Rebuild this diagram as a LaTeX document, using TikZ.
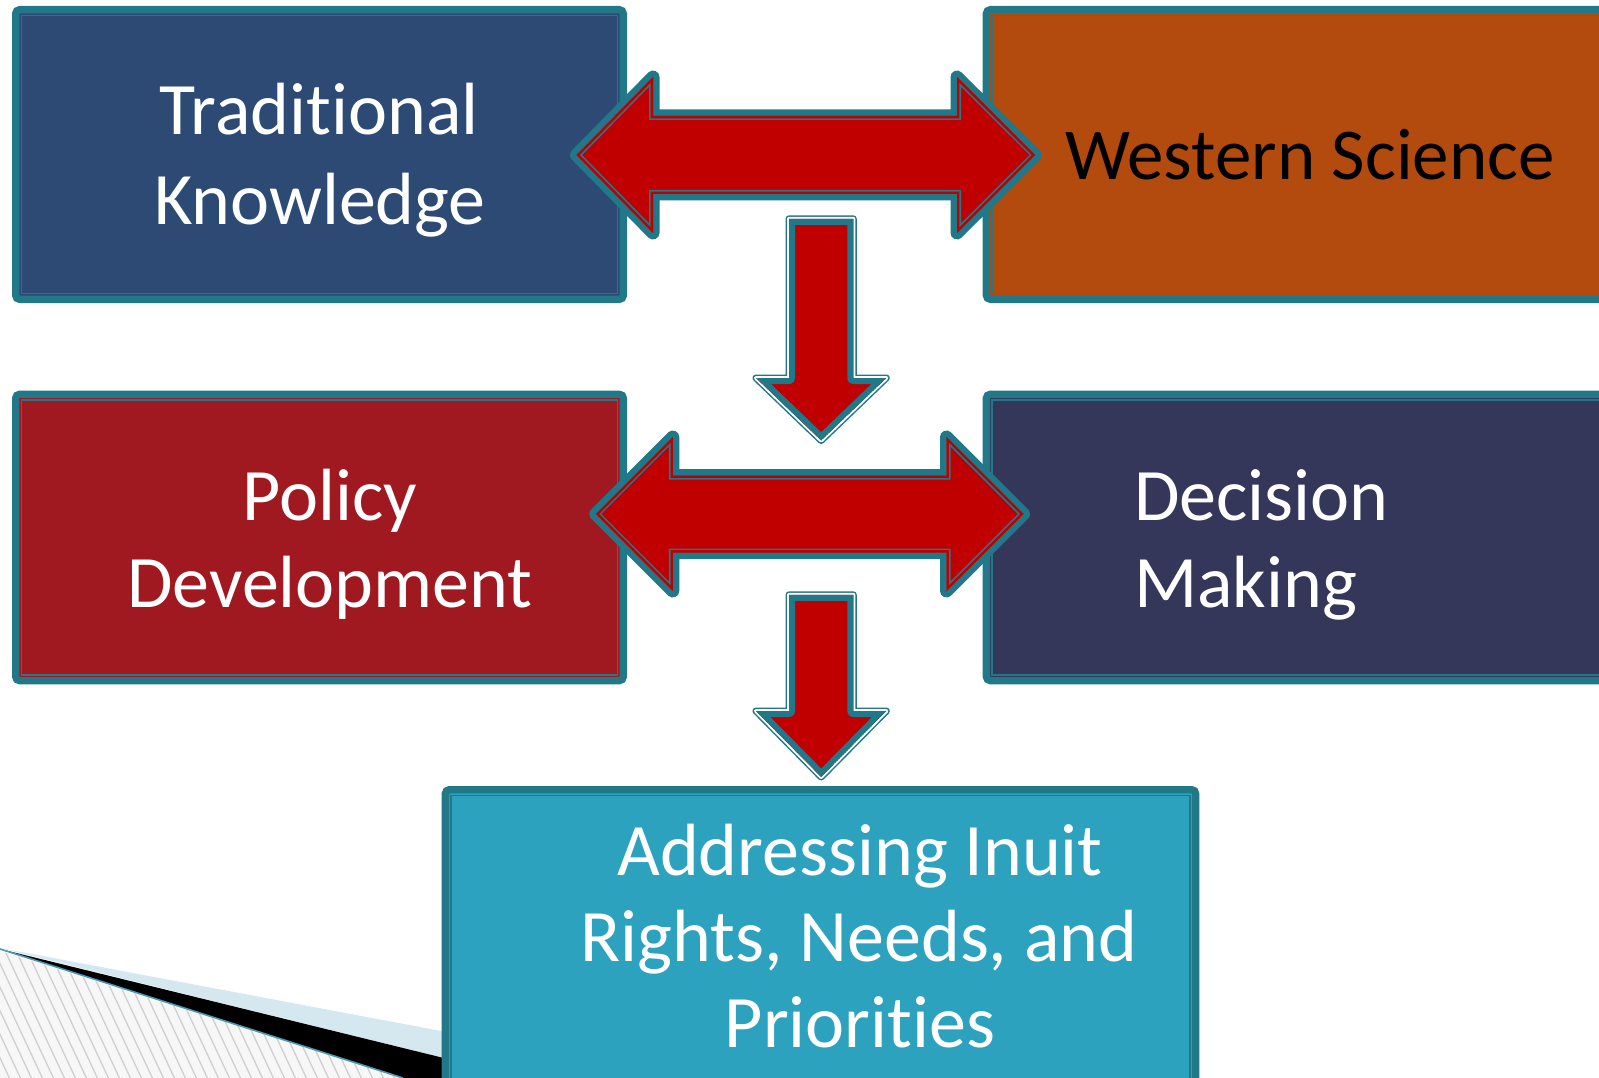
\documentclass[tikz,border=0pt]{standalone}
\usepackage{fontspec}
\setmainfont{Carlito}[Ligatures=NoCommon]
\usetikzlibrary{calc}
\definecolor{boxteal}{HTML}{217888}
\definecolor{tkblue}{HTML}{2C4A74}
\definecolor{wsorange}{HTML}{B34A0E}
\definecolor{pdred}{HTML}{A01820}
\definecolor{dmnavy}{HTML}{35375A}
\definecolor{aircyan}{HTML}{2CA2BF}
\definecolor{arrowred}{HTML}{C00000}
\definecolor{lightwedge}{HTML}{D5E8F0}
\definecolor{edgeteal}{HTML}{4A9AB5}
\definecolor{hatchgray}{HTML}{CFCFCF}
\newcommand{\dblpath}[7]{({#1},{#5}) -- ({#2},{#5-#6}) -- ({#2},{#5-#7}) -- ({#3},{#5-#7}) -- ({#3},{#5-#6}) -- ({#4},{#5}) -- ({#3},{#5+#6}) -- ({#3},{#5+#7}) -- ({#2},{#5+#7}) -- ({#2},{#5+#6}) -- cycle}
\newcommand{\dnpath}[7]{({#1},{#3}) -- ({#2},{#3}) -- ({#2},{#4}) -- ({#6},{#4}) -- ({(#1+#2)/2},{#7}) -- ({#5},{#4}) -- ({#1},{#4}) -- cycle}
\newcommand{\dblarrow}[7]{%
  \draw[boxteal, line width=13pt, line join=round] \dblpath{#1}{#2}{#3}{#4}{#5}{#6}{#7};
  \begin{scope}
    \clip \dblpath{#1}{#2}{#3}{#4}{#5}{#6}{#7};
    \fill[arrowred] \dblpath{#1}{#2}{#3}{#4}{#5}{#6}{#7};
    \draw[boxteal, line width=8pt, line join=miter] \dblpath{#1}{#2}{#3}{#4}{#5}{#6}{#7};
    \draw[arrowred, line width=4.6pt, line join=miter] \dblpath{#1}{#2}{#3}{#4}{#5}{#6}{#7};
  \end{scope}}
\newcommand{\dnarrow}[7]{%
  \draw[boxteal, line width=7pt, line join=round] \dnpath{#1}{#2}{#3}{#4}{#5}{#6}{#7};
  \draw[white, line width=4pt, line join=round] \dnpath{#1}{#2}{#3}{#4}{#5}{#6}{#7};
  \begin{scope}
    \clip \dnpath{#1}{#2}{#3}{#4}{#5}{#6}{#7};
    \fill[arrowred] \dnpath{#1}{#2}{#3}{#4}{#5}{#6}{#7};
    \draw[boxteal, line width=12pt, line join=round] \dnpath{#1}{#2}{#3}{#4}{#5}{#6}{#7};
  \end{scope}}
\tikzset{
  box/.style={draw=boxteal, line width=7.3pt, rounded corners=4pt, outer sep=0pt, inner sep=0pt, anchor=north west},
  lbl/.style={text=white, inner sep=0pt, font=\fontsize{74}{88}\selectfont},
  wslbl/.style={text=black, inner sep=0pt, font=\fontsize{73}{86}\selectfont},
}
\newcommand{\innerline}[1]{\draw[boxteal, line width=1.7pt] ($(#1.north west)+(5.9,5.9)$) rectangle ($(#1.south east)+(-5.9,-5.9)$);}
\begin{document}
\begin{tikzpicture}[x=1pt, y=-1pt]
\useasboundingbox (0,0) rectangle (1599,1078);
\fill[white] (0,0) rectangle (1599,1078);

% bottom-left decoration
\begin{scope}
  \clip (0,951) -- (403,1078) -- (0,1078) -- cycle;
  \fill[white!97!black] (0,951) -- (403,1078) -- (0,1078) -- cycle;
  \foreach \i in {-20,...,40} {
    \draw[hatchgray, line width=1.3pt] ({\i*11},940) -- ({\i*11+70},1090);
  }
\end{scope}
\fill[lightwedge] (0,948) -- (445,1031.7) -- (445,1058.3) -- cycle;
\fill[black] (0,949) -- (445,1058.3) -- (445,1078) -- (403,1078) -- cycle;
\draw[edgeteal, line width=1.6pt] (0,949) -- (403,1078);

% boxes
\node[box, fill=tkblue, minimum width=607.7pt, minimum height=289.7pt] (tk) at (15.65,9.65) {};
\innerline{tk}
\node[box, fill=wsorange, minimum width=640pt, minimum height=289.7pt] (ws) at (986.35,9.65) {};
\innerline{ws}
\node[box, fill=pdred, minimum width=607.7pt, minimum height=286.4pt] (pd) at (15.65,394.25) {};
\innerline{pd}
\node[box, fill=dmnavy, minimum width=640pt, minimum height=286.4pt] (dm) at (986.35,394.25) {};
\innerline{dm}
\node[box, fill=aircyan, minimum width=750.3pt, minimum height=320pt] (air) at (445.35,789.65) {};
\innerline{air}

% arrows
\dblarrow{576.5}{653}{957}{1035.2}{155}{78}{39}
\dblarrow{595.8}{672.8}{946.5}{1023.5}{514}{77}{38.5}
\dnarrow{789}{853.3}{218.8}{378}{756}{886.3}{440.5}
\dnarrow{789}{853.3}{594.8}{711}{756}{886.3}{777}

% labels
\node[lbl, anchor=base] (tk1) at (319,135) {Traditional};
\node[lbl, anchor=base] (tk2) at (320,225) {Knowledge};
\node[wslbl, anchor=base west] (wst) at (1065,180) {Western Science};
\node[lbl, anchor=base] (pd1) at (330,520) {Policy};
\node[lbl, anchor=base] (pd2) at (330,607) {Development};
\node[lbl, anchor=base west] (dm1) at (1134,520) {Decision};
\node[lbl, anchor=base west] (dm2) at (1134,607) {Making};
\node[lbl, anchor=base] (air1) at (860,875) {Addressing Inuit};
\node[lbl, anchor=base] (air2) at (859,961) {Rights, Needs, and};
\node[lbl, anchor=base] (air3) at (860,1047) {Priorities};
\end{tikzpicture}
\end{document}
